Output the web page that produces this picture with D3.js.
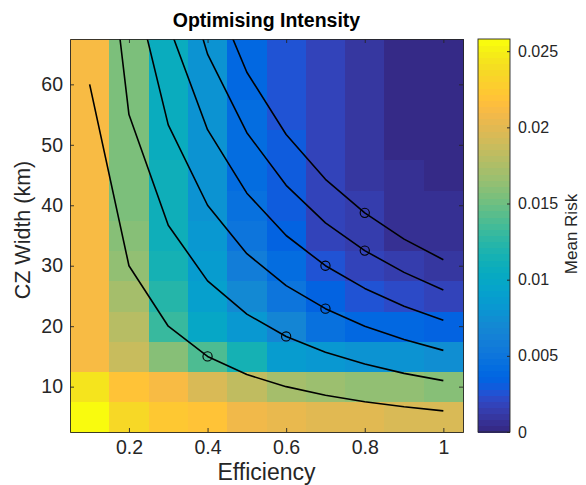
<!DOCTYPE html>
<html><head><meta charset="utf-8">
<script src="https://cdn.jsdelivr.net/npm/d3@7"></script>
<style>
html,body{margin:0;padding:0;background:#fff;}
svg{display:block;font-family:"Liberation Sans",Arial,Helvetica,sans-serif;}
</style></head><body>
<svg id="chart" width="586" height="485"></svg>
<script>
// ---- data ----
const efficiency = [0.1,0.2,0.3,0.4,0.5,0.6,0.7,0.8,0.9,1.0];
const czWidth = [5,10,15,20,25,30,35,40,45,50,55,60,65];
// mean risk (x1e-3) for each CZ width row, columns follow efficiency
const risk05 = [25.8,23.78,22.37,21.96,20.75,20.55,20.15,19.95,19.75,19.54];
const risk10 = [24.38,22.16,21.16,19.75,18.34,17.13,16.72,16.32,16.32,16.12];
const risk15 = [21.36,18.94,15.92,13.90,11.48,8.66,8.26,7.86,7.66,7.45];
const risk20 = [21.16,17.93,13.30,9.87,8.26,6.65,4.63,3.83,3.63,3.43];
const risk25 = [21.16,17.13,12.49,9.07,7.05,5.04,3.43,2.62,2.22,2.01];
const risk30 = [21.16,16.32,11.69,8.66,5.84,4.23,2.62,1.81,1.21,1.01];
const risk35 = [21.16,15.92,11.28,8.26,5.04,3.43,2.01,1.41,0.73,0.60];
const risk40 = [21.16,15.72,11.08,8.06,4.63,3.22,1.81,1.21,0.60,0.44];
const risk45 = [21.16,15.72,11.08,8.06,4.43,3.02,1.81,1.09,0.48,0.36];
const risk50 = [21.16,15.52,10.88,7.86,4.23,3.02,1.81,1.01,0.40,0.28];
const risk55 = [21.16,15.52,10.88,7.86,4.23,2.82,1.73,1.01,0.32,0.24];
const risk60 = [21.16,15.52,10.88,7.86,4.03,2.82,1.73,1.01,0.28,0.20];
const risk65 = [21.16,15.52,10.68,7.86,4.03,2.82,1.73,0.93,0.28,0.20];
// constant-intensity curves (CZ width at each efficiency)
const curveA = [60,30,20,15,12,10,8.57,7.5,6.67,6];
const curveB = [110,55,36.7,27.5,22,18.3,15.7,13.75,12.2,11];
const curveC = [160,80,53.3,40,32,26.7,22.9,20,17.8,16];
const curveD = [210,105,70,52.5,42,35,30,26.25,23.3,21];
const curveE = [260,130,86.7,65,52,43.3,37.1,32.5,28.9,26];
const curveF = [310,155,103.3,77.5,62,51.7,44.3,38.75,34.4,31];
// optimum markers
const optEff = [0.4,0.6,0.7,0.7,0.8,0.8];
const optWidth = [15,18.3,22.9,30,32.5,38.75];
// ticks
const xTicks = [0.2,0.4,0.6,0.8,1];
const yTicks = [10,20,30,40,50,60];
const cbTicks = [0,0.005,0.01,0.015,0.02,0.025];

// ---- parula colormap (64) ----
const parula = [[0.2081,0.1663,0.5292],[0.2116,0.1898,0.5777],[0.2123,0.2138,0.6270],[0.2081,0.2386,0.6771],[0.1959,0.2645,0.7279],[0.1707,0.2919,0.7792],[0.1253,0.3242,0.8303],[0.0591,0.3598,0.8683],[0.0117,0.3875,0.8820],[0.0060,0.4086,0.8828],[0.0165,0.4266,0.8786],[0.0329,0.4430,0.8720],[0.0498,0.4586,0.8641],[0.0629,0.4737,0.8554],[0.0723,0.4887,0.8467],[0.0779,0.5040,0.8384],[0.0793,0.5200,0.8312],[0.0749,0.5375,0.8263],[0.0641,0.5570,0.8240],[0.0488,0.5772,0.8228],[0.0343,0.5966,0.8199],[0.0265,0.6137,0.8135],[0.0239,0.6287,0.8038],[0.0231,0.6418,0.7913],[0.0228,0.6535,0.7768],[0.0267,0.6642,0.7607],[0.0384,0.6743,0.7436],[0.0590,0.6838,0.7254],[0.0843,0.6928,0.7062],[0.1133,0.7015,0.6859],[0.1453,0.7098,0.6646],[0.1801,0.7177,0.6424],[0.2178,0.7250,0.6193],[0.2586,0.7317,0.5954],[0.3022,0.7376,0.5712],[0.3482,0.7424,0.5473],[0.3953,0.7459,0.5244],[0.4420,0.7481,0.5033],[0.4871,0.7491,0.4840],[0.5300,0.7491,0.4661],[0.5709,0.7485,0.4494],[0.6099,0.7473,0.4337],[0.6473,0.7456,0.4188],[0.6834,0.7435,0.4044],[0.7184,0.7411,0.3905],[0.7525,0.7384,0.3768],[0.7858,0.7356,0.3633],[0.8185,0.7327,0.3498],[0.8507,0.7299,0.3360],[0.8824,0.7274,0.3217],[0.9139,0.7258,0.3063],[0.9450,0.7261,0.2886],[0.9739,0.7314,0.2666],[0.9938,0.7455,0.2403],[0.9990,0.7653,0.2164],[0.9955,0.7861,0.1967],[0.9880,0.8066,0.1794],[0.9789,0.8271,0.1633],[0.9697,0.8481,0.1475],[0.9626,0.8705,0.1309],[0.9589,0.8949,0.1132],[0.9598,0.9218,0.0948],[0.9661,0.9514,0.0755],[0.9763,0.9831,0.0538]]
  .map(c => d3.rgb(c[0]*255, c[1]*255, c[2]*255).formatHex());

const riskRows = [risk05,risk10,risk15,risk20,risk25,risk30,risk35,risk40,risk45,risk50,risk55,risk60,risk65];
const cells = [];
riskRows.forEach((row, ri) => row.forEach((v, ci) => cells.push({x: efficiency[ci], y: czWidth[ri], v: v/1000})));
const cmax = d3.max(cells, d => d.v);
const colorQ = d3.scaleQuantize().domain([0, cmax]).range(parula);

const svg = d3.select('#chart');
const L = 70, R = 463, T = 39, B = 432;
const x = d3.scaleLinear().domain([0.05, 1.05]).range([L, R]);
const y = d3.scaleLinear().domain([2.5, 67.5]).range([B, T]);
const dx = 0.05, dy = 2.5;
const ink = '#262626';

svg.append('clipPath').attr('id','clip').append('rect')
  .attr('x', L).attr('y', T).attr('width', R-L).attr('height', B-T);

// heatmap
svg.append('g').attr('shape-rendering','crispEdges').selectAll('rect').data(cells).join('rect')
  .attr('x', d => x(d.x - dx)).attr('y', d => y(d.y + dy))
  .attr('width', d => x(d.x + dx) - x(d.x - dx) + 0.5)
  .attr('height', d => y(d.y - dy) - y(d.y + dy) + 0.5)
  .attr('fill', d => colorQ(d.v));

// curves
const curves = [curveA, curveB, curveC, curveD, curveE, curveF];
const line = d3.line().x(d => x(d[0])).y(d => y(d[1]));
const gLines = svg.append('g').attr('clip-path','url(#clip)');
curves.forEach(c => {
  gLines.append('path').datum(c.map((v,i) => [efficiency[i], v]))
    .attr('d', line).attr('fill','none').attr('stroke','#000').attr('stroke-width',1.6)
    .attr('stroke-linejoin','round');
});
gLines.selectAll('circle').data(optEff.map((e,i) => [e, optWidth[i]])).join('circle')
  .attr('cx', d => x(d[0])).attr('cy', d => y(d[1])).attr('r', 4.6)
  .attr('fill','none').attr('stroke','#000').attr('stroke-width',1.1);

// axes
function style(g, labels) {
  g.selectAll('.domain').attr('stroke', ink).attr('stroke-width', 0.9);
  g.selectAll('.tick line').attr('stroke', ink).attr('stroke-width', 0.9);
  g.selectAll('.tick text').attr('fill', ink).style('font-size', '19.5px')
    .style('font-family','"Liberation Sans",Arial,sans-serif');
  if (!labels) g.selectAll('.tick text').remove();
}
svg.append('g').attr('transform', `translate(0,${B})`)
  .call(d3.axisBottom(x).tickValues(xTicks).tickSizeInner(-4).tickSizeOuter(0).tickPadding(8).tickFormat(d3.format('~g')))
  .call(g => style(g, true));
svg.append('g').attr('transform', `translate(0,${T})`)
  .call(d3.axisTop(x).tickValues(xTicks).tickSizeInner(-4).tickSizeOuter(0))
  .call(g => style(g, false));
svg.append('g').attr('transform', `translate(${L},0)`)
  .call(d3.axisLeft(y).tickValues(yTicks).tickSizeInner(-4).tickSizeOuter(0).tickPadding(7))
  .call(g => style(g, true));
svg.append('g').attr('transform', `translate(${R},0)`)
  .call(d3.axisRight(y).tickValues(yTicks).tickSizeInner(-4).tickSizeOuter(0))
  .call(g => style(g, false));

// colorbar
const CL = 478, CR = 510;
const cb = d3.scaleLinear().domain([0, cmax]).range([B, T]);
const bandStep = cmax / parula.length;
svg.append('g').attr('shape-rendering','crispEdges').selectAll('rect').data(parula).join('rect')
  .attr('x', CL).attr('width', CR - CL)
  .attr('y', (c,i) => cb((i+1)*bandStep)).attr('height', (c,i) => cb(i*bandStep) - cb((i+1)*bandStep) + 0.5)
  .attr('fill', c => c);
svg.append('rect').attr('x', CL).attr('y', T).attr('width', CR-CL).attr('height', B-T)
  .attr('fill','none').attr('stroke', ink).attr('stroke-width', 0.9);
const cbAxis = svg.append('g').attr('transform', `translate(${CR},0)`)
  .call(d3.axisRight(cb).tickValues(cbTicks).tickSizeInner(-3).tickSizeOuter(0).tickPadding(8).tickFormat(d3.format('~g')));
cbAxis.select('.domain').remove();
cbAxis.selectAll('.tick line').attr('stroke', ink);
cbAxis.selectAll('.tick text').attr('fill', ink).style('font-size','16px')
  .style('font-family','"Liberation Sans",Arial,sans-serif');

// texts
svg.append('text').attr('x', (L+R)/2).attr('y', 27).attr('text-anchor','middle')
  .style('font-size','19.5px').style('font-weight','bold').attr('fill','#000')
  .text('Optimising Intensity');
svg.append('text').attr('x', (L+R)/2).attr('y', 480).attr('text-anchor','middle')
  .style('font-size','23px').attr('fill', ink).text('Efficiency');
svg.append('text').attr('transform', 'translate(30,230) rotate(-90)').attr('text-anchor','middle')
  .style('font-size','21.5px').attr('fill', ink).text('CZ Width (km)');
svg.append('text').attr('transform', 'translate(577,234) rotate(-90)').attr('text-anchor','middle')
  .style('font-size','17px').attr('fill', ink).text('Mean Risk');
</script>
</body></html>
